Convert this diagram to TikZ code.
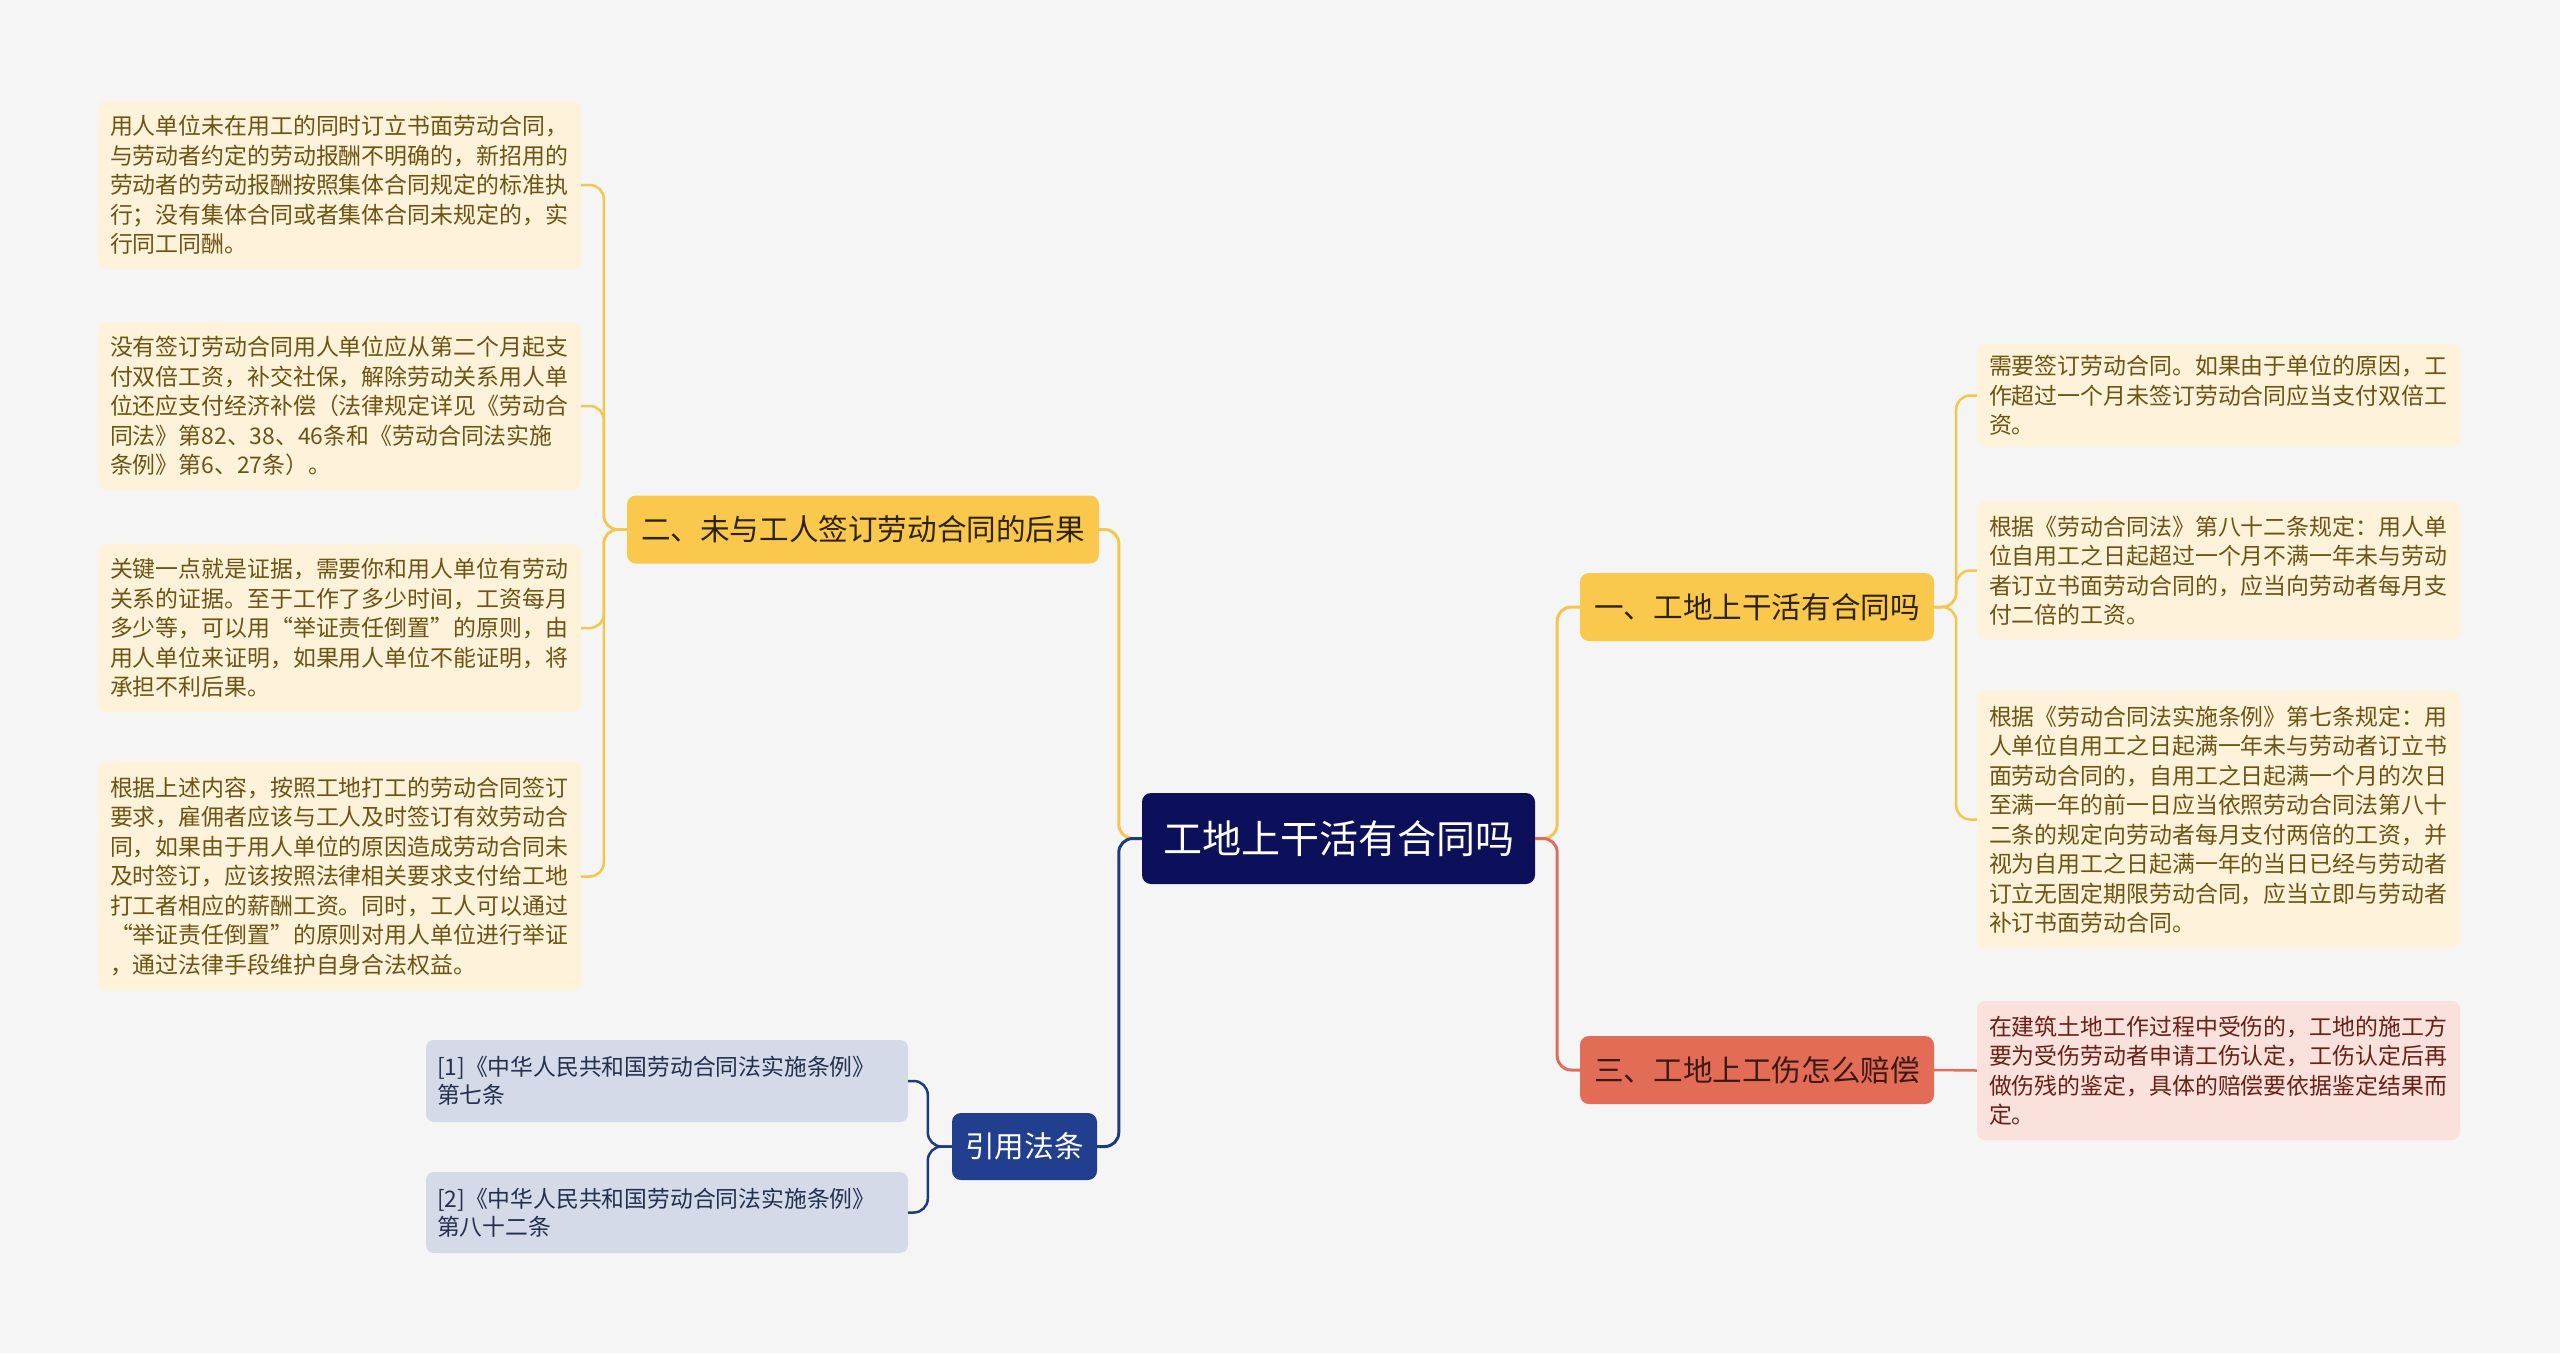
\documentclass[tikz,border=0pt]{standalone}
\usepackage{fontspec}
\newfontfamily\cjk{Noto Sans CJK SC}
\definecolor{bgc}{HTML}{F5F5F5}
\definecolor{rootc}{HTML}{0C0F5A}
\definecolor{yel}{HTML}{F9C84C}
\definecolor{yelline}{HTML}{F5C64E}
\definecolor{yelleaf}{HTML}{FEF2DB}
\definecolor{yeltext}{HTML}{6E5412}
\definecolor{yelhead}{HTML}{2E2300}
\definecolor{red}{HTML}{E36C57}
\definecolor{redline}{HTML}{E06E5C}
\definecolor{redleaf}{HTML}{FAE1DC}
\definecolor{redtext}{HTML}{6A2016}
\definecolor{redhead}{HTML}{3B1A12}
\definecolor{blu}{HTML}{213F8E}
\definecolor{bluline}{HTML}{1E3A80}
\definecolor{bluleaf}{HTML}{D4DAE8}
\definecolor{blutext}{HTML}{22304F}
\begin{document}
\begin{tikzpicture}[x=1pt,y=-1pt,
  leaf/.style={rounded corners=8pt, inner xsep=12pt, inner ysep=4pt, align=left,
    text width=459pt, font={\cjk\fontsize{22.9}{29.5}\selectfont}},
  yleaf/.style={leaf, fill=yelleaf, text=yeltext},
  rleaf/.style={leaf, fill=redleaf, text=redtext},
  cite/.style={rounded corners=8pt, inner xsep=11pt, inner ysep=4pt, align=left,
    text width=460pt, fill=bluleaf, text=blutext, font={\cjk\fontsize{22.8}{28}\selectfont}},
  head/.style={rounded corners=9pt, inner sep=0pt, minimum height=68pt,
    font={\cjk\fontsize{29.6}{34}\selectfont}},
  mainline/.style={line width=3pt, rounded corners=14pt},
  leafline/.style={line width=2.5pt, rounded corners=14pt}]
\fill[bgc] (0,0) rectangle (2560,1353);
\useasboundingbox (0,0) rectangle (2560,1353);

% root
\node[rounded corners=9pt, fill=rootc, text=white, minimum width=393pt, minimum height=91pt,
  inner sep=0pt, font={\cjk\fontsize{39}{44}\selectfont}] (root) at (1338.5,838.5) {工地上干活有合同吗};

% main branches
\node[head, fill=yel, text=yelhead, minimum width=472pt] (b2) at (863,529.5) {二、未与工人签订劳动合同的后果};
\node[head, fill=blu, text=white, minimum width=145pt, minimum height=67pt] (bc) at (1024.5,1146.5) {引用法条};
\node[head, fill=yel, text=yelhead, minimum width=354pt] (b1) at (1757,607) {一、工地上干活有合同吗};
\node[head, fill=red, text=redhead, minimum width=354pt] (b3) at (1757,1070) {三、工地上工伤怎么赔偿};

% left leaves
\node[yleaf, minimum height=168pt] (l1) at (339.5,185) {用人单位未在用工的同时订立书面劳动合同，\\与劳动者约定的劳动报酬不明确的，新招用的\\劳动者的劳动报酬按照集体合同规定的标准执\\行；没有集体合同或者集体合同未规定的，实\\行同工同酬。};
\node[yleaf, minimum height=167pt] (l2) at (339.5,406) {没有签订劳动合同用人单位应从第二个月起支\\付双倍工资，补交社保，解除劳动关系用人单\\位还应支付经济补偿（法律规定详见《劳动合\\同法》第82、38、46条和《劳动合同法实施\\条例》第6、27条）。};
\node[yleaf, minimum height=168pt] (l3) at (339.5,628) {关键一点就是证据，需要你和用人单位有劳动\\关系的证据。至于工作了多少时间，工资每月\\多少等，可以用“举证责任倒置”的原则，由\\用人单位来证明，如果用人单位不能证明，将\\承担不利后果。};
\node[yleaf, minimum height=229pt] (l4) at (339.5,876.5) {根据上述内容，按照工地打工的劳动合同签订\\要求，雇佣者应该与工人及时签订有效劳动合\\同，如果由于用人单位的原因造成劳动合同未\\及时签订，应该按照法律相关要求支付给工地\\打工者相应的薪酬工资。同时，工人可以通过\\“举证责任倒置”的原则对用人单位进行举证\\，通过法律手段维护自身合法权益。};

% citations
\node[cite, minimum height=82pt] (c1) at (667,1081) {[1]《中华人民共和国劳动合同法实施条例》\\第七条};
\node[cite, minimum height=81pt] (c2) at (667,1212.5) {[2]《中华人民共和国劳动合同法实施条例》\\第八十二条};

% right leaves
\node[yleaf, minimum height=103pt] (r1) at (2218.5,395.5) {需要签订劳动合同。如果由于单位的原因，工\\作超过一个月未签订劳动合同应当支付双倍工\\资。};
\node[yleaf, minimum height=139pt] (r2) at (2218.5,570.5) {根据《劳动合同法》第八十二条规定：用人单\\位自用工之日起超过一个月不满一年未与劳动\\者订立书面劳动合同的，应当向劳动者每月支\\付二倍的工资。};
\node[yleaf, minimum height=257pt] (r3) at (2218.5,819.5) {根据《劳动合同法实施条例》第七条规定：用\\人单位自用工之日起满一年未与劳动者订立书\\面劳动合同的，自用工之日起满一个月的次日\\至满一年的前一日应当依照劳动合同法第八十\\二条的规定向劳动者每月支付两倍的工资，并\\视为自用工之日起满一年的当日已经与劳动者\\订立无固定期限劳动合同，应当立即与劳动者\\补订书面劳动合同。};
\node[rleaf, minimum height=139pt] (r4) at (2218.5,1070.5) {在建筑土地工作过程中受伤的，工地的施工方\\要为受伤劳动者申请工伤认定，工伤认定后再\\做伤残的鉴定，具体的赔偿要依据鉴定结果而\\定。};

% connectors: root to branches
\draw[mainline, yelline] (root.west) -- ++(-23,0) |- (b2.east);
\draw[mainline, bluline] (root.west) -- ++(-23,0) |- (bc.east);
\draw[mainline, yelline] (root.east) -- ++(22,0) |- (b1.west);
\draw[mainline, redline] (root.east) -- ++(22,0) |- (b3.west);

% branch 2 to leaves
\foreach \n in {l1,l2,l3,l4}
  \draw[leafline, yelline] (b2.west) -- ++(-23,0) |- (\n.east);
% citations
\foreach \n in {c1,c2}
  \draw[leafline, bluline] (bc.west) -- ++(-24,0) |- (\n.east);
% branch 1 to leaves
\foreach \n in {r1,r2,r3}
  \draw[leafline, yelline] (b1.east) -- ++(22,0) |- (\n.west);
% branch 3 to leaf
\draw[leafline, redline] (b3.east) -- (r4.west);
\end{tikzpicture}
\end{document}
